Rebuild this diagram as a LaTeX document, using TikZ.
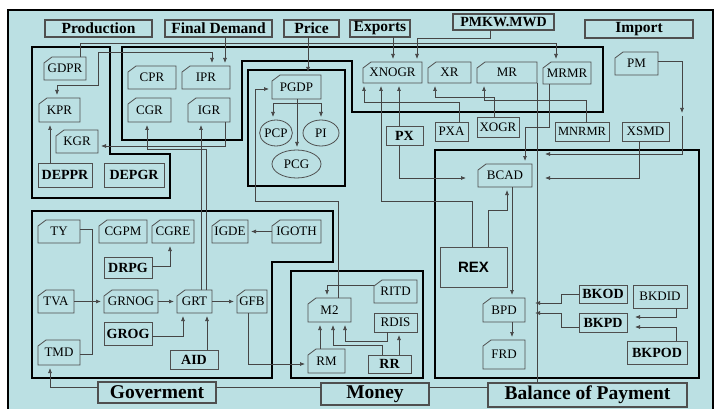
\documentclass[tikz,border=0pt]{standalone}
\usepackage{fontspec}
\setmainfont{Liberation Serif}
\newfontfamily\rexfont{Liberation Sans}
\usetikzlibrary{shapes.geometric,arrows.meta,calc}
\definecolor{bgc}{HTML}{BBE0E3}
\definecolor{lcol}{HTML}{454545}
\definecolor{bcol}{HTML}{4F4F4F}
\begin{document}
\begin{tikzpicture}[x=1pt,y=-1pt,
  every node/.style={inner sep=0pt, outer sep=0pt},
  sz/.style 2 args={minimum width=#1pt, minimum height=#2pt},
  txt/.style={font=\fontsize{13}{13}\selectfont},
  cardn/.style={txt, rectangle},
  plainn/.style={txt, rectangle, draw=bcol, line width=0.8pt, fill=bgc},
  boldn/.style={rectangle, draw=bcol, line width=0.8pt, fill=bgc, font=\fontsize{14}{14}\selectfont\bfseries},
  ell/.style={ellipse, draw=bcol, line width=0.8pt, txt},
  hdr/.style={rectangle, draw=bcol, line width=1.1pt, fill=bgc, font=\fontsize{15.5}{15.5}\selectfont\bfseries},
  btm/.style={rectangle, draw=bcol, line width=1.1pt, fill=bgc, font=\fontsize{19.5}{19.5}\selectfont\bfseries},
  grp/.style={draw=black, line width=2.6pt},
  cline/.style={draw=lcol, line width=0.7pt},
  arr/.style={cline, -{Latex[length=5pt,width=4pt]}, shorten >=3pt},
  arrtwo/.style={cline, {Latex[length=5pt,width=4pt]}-{Latex[length=5pt,width=4pt]}, shorten >=3pt, shorten <=3pt},
  outl/.style={draw=bcol, line width=0.8pt}
]
\useasboundingbox (0,0) rectangle (720,409);
\fill[white] (0,0) rectangle (720,409);
\draw[fill=bgc, line width=2.4pt] (8,10) rectangle (713,414);

% groups
\draw[grp] (32,47) -- (110,47) -- (110,154) -- (170,154) -- (170,198) -- (32,198) -- cycle;
\draw[grp] (122,47) -- (603,47) -- (603,112) -- (352,112) -- (352,61) -- (242,61) -- (242,140) -- (122,140) -- cycle;
\draw[grp] (248,70) rectangle (345,186);
\draw[grp] (32,211) -- (333,211) -- (333,262) -- (272,262) -- (272,378) -- (32,378) -- cycle;
\draw[grp] (291,271) rectangle (423,378);
\draw[grp] (435,150) rectangle (699,378);

% headers
\node[hdr, sz={107}{17}] (Production) at (98.5,28.5) {Production};
\node[hdr, sz={107}{17}] (FinalDemand) at (218.5,28.5) {Final Demand};
\node[hdr, sz={55}{17}] (Price) at (311.5,28.5) {Price};
\node[hdr, sz={60}{17}] (Exports) at (380,28.5) {Exports};
\node[hdr, sz={101}{16}, font=\fontsize{14}{14}\selectfont\bfseries] (PMKW) at (503.5,22) {PMKW.MWD};
\node[hdr, sz={108}{18}] (Import) at (639,29) {Import};
\node[btm, sz={118}{21}] (Goverment) at (157,392.5) {Goverment};
\node[btm, sz={108}{22}] (Money) at (375,394) {Money};
\node[btm, sz={199}{24}] (BoP) at (587.5,395) {Balance of Payment};

% production
\node[cardn, sz={42}{23}] (GDPR) at (65,68.5) {GDPR};
\node[cardn, sz={41}{24}] (KPR) at (59.5,110) {KPR};
\node[cardn, sz={42}{23}] (KGR) at (77,141.5) {KGR};
\node[boldn, sz={54}{24}] (DEPPR) at (65,175) {DEPPR};
\node[boldn, sz={60}{24}] (DEPGR) at (134,175) {DEPGR};
% final demand
\node[cardn, sz={48}{23}] (CPR) at (152,77.5) {CPR};
\node[cardn, sz={48}{23}] (IPR) at (206,77.5) {IPR};
\node[cardn, sz={43}{24}] (CGR) at (149.5,110) {CGR};
\node[cardn, sz={42}{24}] (IGR) at (209,110) {IGR};
% price
\node[cardn, sz={49}{24}] (PGDP) at (296.5,87) {PGDP};
\node[ell, sz={30}{26}] (PCP) at (276,133) {PCP};
\node[ell, sz={36}{26}] (PI) at (321,133) {PI};
\node[ell, sz={49}{28}] (PCG) at (296.5,164) {PCG};
% exports / imports
\node[cardn, sz={59}{21}] (XNOGR) at (392.5,72.5) {XNOGR};
\node[cardn, sz={43}{21}] (XR) at (449.5,72.5) {XR};
\node[cardn, sz={60}{21}] (MR) at (507,72.5) {MR};
\node[cardn, sz={48}{22}] (MRMR) at (567,73) {MRMR};
\node[boldn, sz={37}{19}] (PX) at (404.5,135.5) {PX};
\node[plainn, sz={33}{19}] (PXA) at (451.5,131.5) {PXA};
\node[plainn, sz={42}{20}] (XOGR) at (498,127) {XOGR};
\node[plainn, sz={54}{19}, font=\fontsize{12.5}{12.5}\selectfont] (MNRMR) at (582,131.5) {MNRMR};
\node[plainn, sz={47}{19}] (XSMD) at (645.5,131.5) {XSMD};
\node[cardn, sz={43}{23}] (PM) at (636.5,63.5) {PM};
% balance of payment
\node[cardn, sz={54}{23}] (BCAD) at (505,175.5) {BCAD};
\node[rectangle, draw=bcol, line width=0.9pt, sz={67}{40}, font=\rexfont\fontsize{15}{15}\selectfont\bfseries] (REX) at (473.5,267) {REX};
\node[cardn, sz={42}{24}] (BPD) at (504,310) {BPD};
\node[cardn, sz={42}{29}] (FRD) at (504,354.5) {FRD};
\node[boldn, sz={48}{18}] (BKOD) at (603,294) {BKOD};
\node[boldn, sz={48}{19}] (BKPD) at (603,322.5) {BKPD};
\node[plainn, sz={54}{23}] (BKDID) at (660,296.5) {BKDID};
\node[boldn, sz={60}{23}] (BKPOD) at (657,352.5) {BKPOD};
% government
\node[cardn, sz={42}{23}] (TY) at (59,231.5) {TY};
\node[cardn, sz={48}{23}] (CGPM) at (123,231.5) {CGPM};
\node[cardn, sz={42}{23}] (CGRE) at (173,231.5) {CGRE};
\node[cardn, sz={36}{23}] (IGDE) at (230,231.5) {IGDE};
\node[cardn, sz={49}{23}] (IGOTH) at (296.5,231.5) {IGOTH};
\node[boldn, sz={48}{21}] (DRPG) at (128,267.5) {DRPG};
\node[cardn, sz={36}{23}] (TVA) at (56,301.5) {TVA};
\node[cardn, sz={54}{23}] (GRNOG) at (131,301.5) {GRNOG};
\node[cardn, sz={35}{23}] (GRT) at (194.5,301.5) {GRT};
\node[cardn, sz={30}{23}] (GFB) at (252,301.5) {GFB};
\node[boldn, sz={48}{23}] (GROG) at (128,333.5) {GROG};
\node[cardn, sz={42}{25}] (TMD) at (59,352.5) {TMD};
\node[boldn, sz={48}{19}] (AID) at (194,359.5) {AID};
% money
\node[cardn, sz={43}{24}] (M2) at (329.5,310) {M2};
\node[cardn, sz={43}{23}] (RITD) at (395.5,291.5) {RITD};
\node[plainn, sz={43}{19}] (RDIS) at (395.5,322.5) {RDIS};
\node[cardn, sz={37}{24}] (RM) at (326.5,361) {RM};
\node[boldn, sz={43}{18}] (RR) at (389.5,364) {RR};

% card outlines
\foreach \n in {GDPR,KPR,KGR,CPR,IPR,CGR,IGR,PGDP,XNOGR,XR,MR,MRMR,PM,BCAD,BPD,FRD,TY,CGPM,CGRE,IGDE,IGOTH,TVA,GRNOG,GRT,GFB,TMD,M2,RITD,RM}
  \draw[outl] ([xshift=8pt]\n.north west) -- (\n.north east) -- (\n.south east) -- (\n.south west) -- ([yshift=-6pt]\n.north west) -- cycle;

% free ends
\coordinate (pmmid) at (682,116);
\coordinate (pmend) at (542,154);
\coordinate (xsend) at (542,178);

% connectors
\draw[arr] (80,0 |- GDPR.north) -- (80,43) -- (556,43) -- (556,0 |- MRMR.north);
\draw[arrtwo] (57,0 |- KPR.north) -- (57,85) -- (98,85) -- (98,52) -- (212,52) -- (212,0 |- IPR.north);
\draw[arr] (225,0 |- FinalDemand.south) -- (225,0 |- IPR.north);
\draw[arr] (308,0 |- Price.south) -- (308,0 |- PGDP.north);
\draw[arr] (393,0 |- Exports.south) -- (393,0 |- XNOGR.north);
\draw[arr] (490,0 |- PMKW.south) -- (490,38) -- (417,38) -- (417,0 |- XNOGR.north);
\draw[arr] (225,0 |- IGR.south) -- (225,146) -- (KGR.east |- 0,146);
\draw[arr] (50,0 |- DEPPR.north) -- (50,0 |- KPR.south);
\draw[arr] (201,0 |- GRT.north) -- (201,0 |- IGR.south);
\draw[arr] (206,0 |- GRT.north) -- (206,149) -- (147,149) -- (147,0 |- CGR.south);
\draw[arr] (297,0 |- PGDP.south) -- (297,0 |- PCG.north);
\draw[arr] (297,0 |- PGDP.south) -- (297,103) -- (273,103) -- (273,0 |- PCP.north);
\draw[arr] (297,0 |- PGDP.south) -- (297,103) -- (321,103) -- (PI.north);
\draw[arr] (338,0 |- M2.north) -- (338,201) -- (255,201) -- (255,89) -- (PGDP.west |- 0,89);
\draw[arr] (RITD.west |- 0,285) -- (327,285) -- (327,0 |- M2.north);
\draw[arr] (320,0 |- RM.north) -- (320,0 |- M2.south);
\draw[arr] (382,0 |- RR.north) -- (382,345) -- (333,345) -- (333,0 |- M2.south);
\draw[arr] (387,0 |- RDIS.south) -- (387,341) -- (345,341) -- (345,0 |- M2.south);
\draw[arr] (399,0 |- RR.north) -- (399,0 |- RDIS.south);
\draw[arr] (248,0 |- GFB.south) -- (248,364) -- (RM.west |- 0,364);
\draw[arr] (IGOTH.west) -- (IGDE.east);
\draw[arr] (DRPG.east |- 0,266) -- (170,266) -- (170,0 |- CGRE.south);
\draw[cline] (TY.east |- 0,229) -- (92,229) -- (92,354) -- (TMD.east |- 0,354);
\draw[arr] (TVA.east) -- (GRNOG.west);
\draw[arr] (GRNOG.east) -- (GRT.west);
\draw[arr] (GRT.east) -- (GFB.west);
\draw[arr] (GROG.east |- 0,336) -- (183,336) -- (183,0 |- GRT.south);
\draw[arr] (207,0 |- AID.north) -- (207,0 |- GRT.south);
\draw[arr] (Goverment.west |- 0,387) -- (50,387) -- (50,0 |- TMD.south);
\draw[cline] (Goverment.east |- 0,387) -- (Money.west |- 0,387);
\draw[cline] (Money.east |- 0,387) -- (BoP.west |- 0,387);
\draw[cline] (MR.south east) -- (MR.south east |- BoP.north);
\draw[arr] (399,0 |- PX.north) -- (399,0 |- XNOGR.south);
\draw[arr, shorten >=12pt] (399,0 |- PX.south) -- (399,178) -- (BCAD.west |- 0,178);
\draw[arr] (459,0 |- PXA.north) -- (459,102) -- (364,102) -- (364,0 |- XNOGR.south);
\draw[arr] (494,0 |- XOGR.north) -- (494,97) -- (435,97) -- (435,0 |- XR.south);
\draw[arr] (586,0 |- MNRMR.north) -- (586,100) -- (484,100) -- (484,0 |- MR.south);
\draw[arr] (549,0 |- MRMR.south) -- (549,127) -- (525,127) -- (525,0 |- BCAD.north);
\draw[arr] (472,0 |- REX.north) -- (472,201) -- (381,201) -- (381,0 |- XNOGR.south);
\draw[arr] (488,0 |- REX.north) -- (488,210) -- (507,210) -- (507,0 |- BCAD.south);
\draw[arr] (512,0 |- BCAD.south) -- (512,0 |- BPD.north);
\draw[arr] (512,0 |- BPD.south) -- (512,0 |- FRD.north);
\draw[arr, shorten >=10pt] (BKOD.west) -- (561,294) -- (561,303) -- (BPD.east |- 0,303);
\draw[arr, shorten >=10pt] (BKPD.west |- 0,327) -- (561,327) -- (561,313) -- (BPD.east |- 0,313);
\draw[arr, shorten >=8pt] (676,0 |- BKDID.south) -- (676,317) -- (BKPD.east |- 0,317);
\draw[arr, shorten >=8pt] (676,0 |- BKPOD.north) -- (676,327) -- (BKPD.east |- 0,327);
\draw[arr] (PM.east |- 0,61) -- (682,61) -- (pmmid);
\draw[arr] (pmmid) -- (682,154) -- (pmend);
\draw[arr] (639,0 |- XSMD.south) -- (639,178) -- (xsend);
\end{tikzpicture}
\end{document}
